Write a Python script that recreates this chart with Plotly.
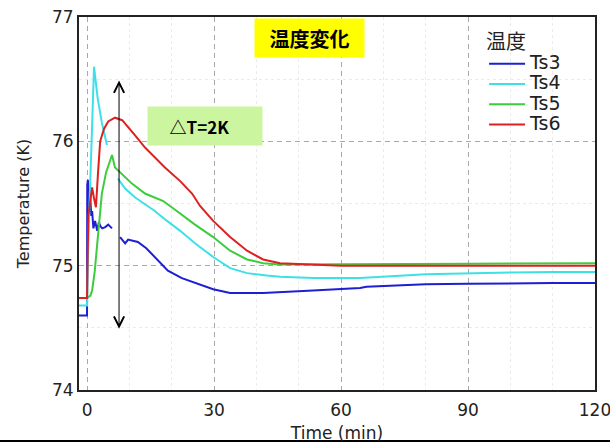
import plotly.graph_objects as go

# ---------------- data ----------------
series_names = ["Ts3", "Ts4", "Ts5", "Ts6"]
series_colors = ["#1e1ed2", "#3ee0e8", "#3ccc3c", "#dd2020"]

t_ts3 = [-1.9, 0.0, 0.05, 0.2, 0.5, 0.7, 1.0, 1.2, 1.5, 1.9, 2.4, 2.8, 3.1, 3.6, 4.3, 5.0, 5.9,
         6.6, 7.8, 9.0, 9.7, 12.0, 14.0, 16.0, 19.1, 22.4, 25.5, 29.8, 33.8, 41.6, 53.4, 60.0,
         64.5, 66.0, 80.0, 90.0, 100.0, 110.0, 120.0]
ts3 = [74.60, 74.60, 75.65, 75.69, 75.45, 75.58, 75.40, 75.44, 75.30, 75.36, 75.28, 75.35, 75.32,
       75.30, 75.31, 75.33, 75.30, None, 75.23, 75.18, 75.21, 75.19, 75.14, 75.07, 74.96, 74.90,
       74.86, 74.81, 74.78, 74.78, 74.80, 74.81, 74.82, 74.83, 74.85, 74.855, 74.86, 74.86, 74.86]

t_ts4 = [-1.9, 0.0, 0.3, 1.65, 2.5, 3.5, 4.7, 6.0, 7.3, 9.0, 11.3, 13.5, 16.0, 18.9, 22.0, 25.5,
         29.8, 33.8, 37.8, 42.5, 45.6, 53.4, 64.5, 80.0, 90.0, 100.0, 110.0, 120.0]
ts4 = [74.68, 74.68, 75.20, 76.60, 76.35, 76.15, 75.97, None, 75.70, 75.62, 75.55, 75.50, 75.44,
       75.36, 75.28, 75.18, 75.07, 74.98, 74.94, 74.92, 74.91, 74.90, 74.90, 74.93, 74.94, 74.945,
       74.95, 74.95]

t_ts5 = [-1.9, 0.0, 0.8, 1.2, 1.8, 2.4, 3.0, 3.5, 4.5, 5.9, 6.6, 7.8, 9.0, 10.6, 13.7, 16.0, 18.0,
         20.8, 22.0, 25.5, 29.8, 33.8, 37.8, 41.6, 45.6, 52.0, 60.0, 90.0, 120.0]
ts5 = [74.74, 74.74, 74.76, 74.80, 74.95, 75.18, 75.40, 75.58, 75.75, 75.89, 75.79, 75.75, 75.71,
       75.66, 75.58, 75.55, 75.52, 75.45, 75.42, 75.33, 75.23, 75.12, 75.05, 75.02, 75.01, 75.01,
       75.01, 75.015, 75.02]

t_ts6 = [-1.9, 0.0, 0.3, 0.9, 1.2, 1.6, 2.1, 2.6, 3.1, 4.0, 5.0, 6.6, 8.3, 11.3, 13.7, 18.4, 22.0,
         24.8, 26.7, 29.8, 33.8, 37.8, 41.6, 45.6, 52.0, 60.0, 90.0, 120.0]
ts6 = [74.74, 74.74, 75.40, 75.55, 75.63, 75.55, 75.47, 75.75, 76.00, 76.10, 76.16, 76.19, 76.17,
       76.05, 75.95, 75.79, 75.68, 75.58, 75.48, 75.36, 75.23, 75.12, 75.05, 75.02, 75.01, 75.00,
       75.00, 75.00]

x_ticks = [0, 30, 60, 90, 120]
y_ticks = [74, 75, 76, 77]
x_minor = [10, 20, 40, 50, 70, 80, 100, 110]
y_minor = [74.5, 75.5, 76.5]

legend_title = "温度"
title_box = "温度変化"
delta_label = "△T=2K"
delta_x = 7.56
delta_range = [74.48, 76.49]

times = [t_ts3, t_ts4, t_ts5, t_ts6]
values = [ts3, ts4, ts5, ts6]

# ---------------- figure ----------------
fig = go.Figure()
for name, color, tx, vy in zip(series_names, series_colors, times, values):
    fig.add_trace(go.Scatter(x=tx, y=vy, mode="lines",
                             name='<span style="font-size:19px">' + name + '</span>',
                             line=dict(color=color, width=2), connectgaps=False))

axis_font = dict(family="DejaVu Sans", size=17, color="#222222")
grid_dash = "5px,4px"

fig.update_layout(
    width=610, height=443,
    margin=dict(l=79, r=15, t=17, b=53, autoexpand=False),
    plot_bgcolor="white", paper_bgcolor="white",
    font=dict(family="DejaVu Sans", color="#222222"),
    showlegend=True,
    legend=dict(
        title=dict(text=legend_title, font=dict(family="Noto Sans CJK JP", size=20, color="#222")),
        font=dict(family="DejaVu Sans", size=13.3, color="#222222"),
        x=0.785, y=0.985, xanchor="left", yanchor="top",
        bgcolor="rgba(0,0,0,0)", borderwidth=0,
        tracegroupgap=0, itemwidth=36,
    ),
    xaxis=dict(
        range=[-1.9, 120], tickvals=x_ticks, ticks="", tickfont=axis_font,
        ticklabeloverflow="allow", ticklabelstandoff=4, automargin=False,
        showgrid=True, gridcolor="#a8a8a8", griddash=grid_dash, gridwidth=1.3,
        minor=dict(tickvals=x_minor, showgrid=True, gridcolor="#ebebeb", griddash="dot", gridwidth=1),
        showline=True, linecolor="#222222", linewidth=2, mirror=True, zeroline=False,
        title=dict(text="Time (min)", font=dict(family="DejaVu Sans", size=17, color="#222"), standoff=8),
    ),
    yaxis=dict(
        range=[74, 77], tickvals=y_ticks, ticks="", tickfont=axis_font, automargin=False,
        showgrid=True, gridcolor="#a8a8a8", griddash=grid_dash, gridwidth=1.3,
        minor=dict(tickvals=y_minor, showgrid=True, gridcolor="#ebebeb", griddash="dot", gridwidth=1),
        showline=True, linecolor="#222222", linewidth=2, mirror=True, zeroline=False,
        title=dict(text="Temperature (K)", font=dict(family="DejaVu Sans", size=16, color="#222"), standoff=18),
    ),
)

# title box (yellow)
fig.add_annotation(x=52.6, y=76.83, xref="x", yref="y", text="<b>" + title_box + "</b>", showarrow=False,
                   font=dict(family="Noto Sans CJK JP", size=20, color="black"),
                   bgcolor="#ffff00", width=107, height=36, align="center", valign="middle")
# delta box (light green)
fig.add_annotation(x=27.9, y=76.12, xref="x", yref="y",
                   text="<b>" + delta_label + "</b>&nbsp;&nbsp;&nbsp;",
                   showarrow=False, font=dict(family="Noto Sans CJK JP", size=17, color="black"),
                   bgcolor="#ccf5a0", width=112, height=36, align="center", valign="middle")
# double-headed arrow
fig.add_annotation(x=delta_x, y=delta_range[1], ax=delta_x, ay=delta_range[0],
                   xref="x", yref="y", axref="x", ayref="y", text="", showarrow=True,
                   arrowside="end+start", arrowhead=5, startarrowhead=5,
                   arrowsize=2, startarrowsize=2, arrowwidth=1, arrowcolor="black",
                   standoff=0, startstandoff=0)
# bottom rule line across page
fig.add_shape(type="line", xref="paper", yref="paper", x0=-0.16, x1=1.04, y0=-0.1367, y1=-0.1367,
              line=dict(color="black", width=2))

fig.write_html("out.html")
